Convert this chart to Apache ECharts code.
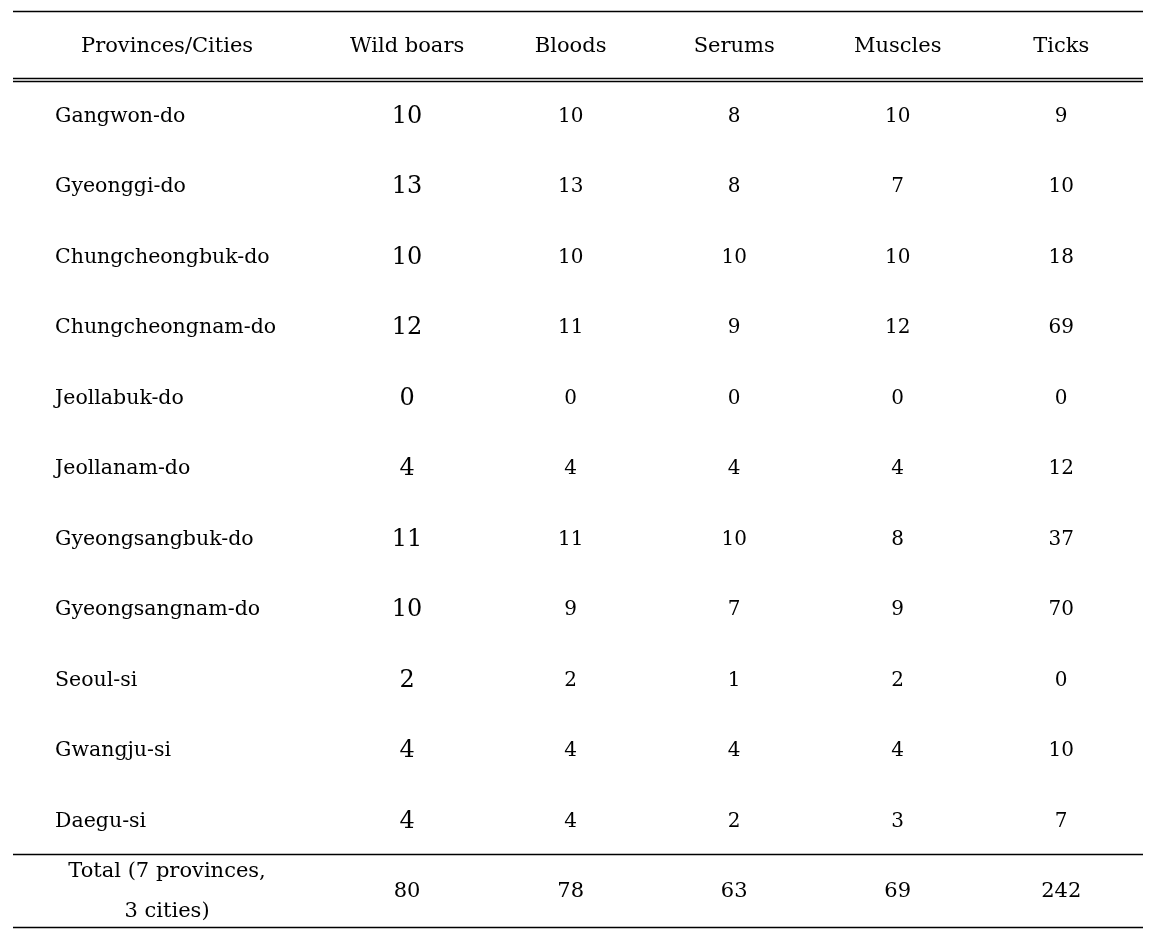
<!DOCTYPE html>
<html>
<head>
<meta charset="utf-8">
<script src="https://cdn.jsdelivr.net/npm/echarts@6/dist/echarts.min.js"></script>
<style>
html,body{margin:0;padding:0;background:#fff;}
#chart{width:1163px;height:937px;}
</style>
</head>
<body>
<div id="chart"></div>
<script>
const headers = ['Provinces/Cities', 'Wild boars', 'Bloods', 'Serums', 'Muscles', 'Ticks'];
const provinces = ['Gangwon-do', 'Gyeonggi-do', 'Chungcheongbuk-do', 'Chungcheongnam-do', 'Jeollabuk-do', 'Jeollanam-do', 'Gyeongsangbuk-do', 'Gyeongsangnam-do', 'Seoul-si', 'Gwangju-si', 'Daegu-si'];
const wildBoars = [10, 13, 10, 12, 0, 4, 11, 10, 2, 4, 4];
const bloods = [10, 13, 10, 11, 0, 4, 11, 9, 2, 4, 4];
const serums = [8, 8, 10, 9, 0, 4, 10, 7, 1, 4, 2];
const muscles = [10, 7, 10, 12, 0, 4, 8, 9, 2, 4, 3];
const ticks = [9, 10, 18, 69, 0, 12, 37, 70, 0, 10, 7];
const totalLabel = 'Total (7 provinces,\n3 cities)';
const totals = [80, 78, 63, 69, 242];

const valueCols = [wildBoars, bloods, serums, muscles, ticks];
const FONT = '"DejaVu Serif", "Liberation Serif", serif';
const COLOR = '#000';
const totalRow = provinces.length + 1;

const series = [];
const base = { type: 'scatter', symbolSize: 0, silent: true, itemStyle: { opacity: 1 } };

// header row
series.push(Object.assign({}, base, {
  data: headers.map((h, j) => [j === 0 ? -0.468 : j, 0, h]),
  label: { show: true, position: 'inside', formatter: p => p.value[2],
    fontFamily: FONT, fontSize: 21, color: COLOR }
}));

// province names (left aligned)
series.push(Object.assign({}, base, {
  data: provinces.map((n, i) => [-1.153, i + 1, n]),
  label: { show: true, position: 'inside', align: 'left', formatter: p => p.value[2],
    fontFamily: FONT, fontSize: 20.5, color: COLOR }
}));

// value columns
valueCols.forEach((col, j) => {
  series.push(Object.assign({}, base, {
    data: col.map((v, i) => [j + 1, i + 1, v]),
    label: { show: true, position: 'inside', formatter: p => String(p.value[2]),
      fontFamily: FONT, fontSize: j === 0 ? 24 : 20, color: COLOR }
  }));
});

// total row
series.push(Object.assign({}, base, {
  data: [[-0.468, totalRow, totalLabel]].concat(totals.map((v, j) => [j + 1, totalRow, v])),
  label: { show: true, position: 'inside', formatter: p => String(p.value[2]),
    fontFamily: FONT, fontSize: 21, lineHeight: 40, color: COLOR, align: 'center' }
}));

// rules
const ruleStyle = { color: '#000', width: 1.3, type: 'solid', opacity: 1 };
series.push({
  type: 'line', data: [], silent: true,
  markLine: {
    silent: true, symbol: ['none', 'none'], label: { show: false },
    lineStyle: ruleStyle, animation: false,
    data: [
      { yAxis: -0.5 },
      { yAxis: 0.448 },
      { yAxis: 0.5 },
      { yAxis: 11.475 },
      { yAxis: 12.5 }
    ]
  }
});

const chart = echarts.init(document.getElementById('chart'));
chart.setOption({
  animation: false,
  backgroundColor: '#fff',
  grid: { left: 13, right: 20, top: 11, bottom: 10, containLabel: false },
  xAxis: { type: 'value', min: -1.41, max: 5.5, show: false },
  yAxis: { type: 'value', min: -0.5, max: 12.5, inverse: true, show: false },
  series: series
});
</script>
</body>
</html>
